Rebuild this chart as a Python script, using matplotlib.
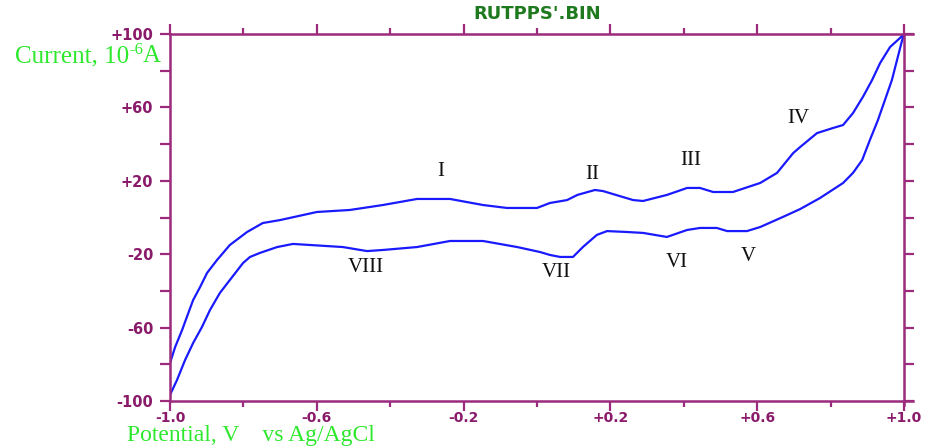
import matplotlib.pyplot as plt

AXIS = "#9c2a7d"
TICKTXT = "#8a1a6a"
GREEN = "#2ee82e"
TITLE_GREEN = "#1f7a1f"
TRACE = "#1a1aff"

# forward (anodic) sweep, potential in V vs Ag/AgCl, current in uA
fwd_v = [-1.0, -0.986, -0.967, -0.954, -0.937, -0.918, -0.899, -0.872, -0.837, -0.79,
         -0.747, -0.70, -0.60, -0.51, -0.42, -0.327, -0.237, -0.147, -0.082, 0.0,
         0.035, 0.082, 0.11, 0.158, 0.18, 0.215, 0.262, 0.289, 0.354, 0.409,
         0.444, 0.48, 0.534, 0.608, 0.654, 0.698, 0.717, 0.763, 0.807, 0.834,
         0.861, 0.888, 0.913, 0.935, 0.962, 0.989, 1.0]
fwd_i = [-79.3, -70.6, -61.3, -54.2, -45.0, -37.9, -30.2, -23.2, -15.0, -7.9,
         -3.0, -1.4, 3.0, 4.1, 6.8, 10.1, 10.1, 6.8, 5.2, 5.2,
         7.9, 9.5, 12.3, 15.0, 14.4, 12.3, 9.5, 9.0, 12.3, 16.1,
         16.1, 13.9, 13.9, 18.8, 24.3, 35.1, 38.4, 46.0, 48.8, 50.4,
         56.9, 65.7, 74.9, 84.2, 92.9, 97.8, 100.0]

# reverse (cathodic) sweep
rev_v = [-1.0, -0.981, -0.959, -0.937, -0.913, -0.891, -0.864, -0.837, -0.801, -0.782,
         -0.755, -0.708, -0.665, -0.529, -0.463, -0.42, -0.327, -0.237, -0.147, -0.054,
         0.008, 0.035, 0.063, 0.098, 0.125, 0.163, 0.191, 0.245, 0.289, 0.354,
         0.409, 0.444, 0.49, 0.518, 0.572, 0.608, 0.67, 0.717, 0.771, 0.834,
         0.861, 0.886, 0.907, 0.929, 0.948, 0.967, 0.981, 0.995, 1.0]
rev_i = [-96.7, -88.6, -77.7, -68.4, -59.7, -50.4, -41.1, -34.1, -24.8, -21.5,
         -19.3, -16.1, -14.4, -16.1, -18.3, -17.7, -16.1, -12.8, -12.8, -16.1,
         -18.8, -20.4, -21.5, -21.5, -16.1, -9.5, -7.4, -7.9, -8.4, -10.6,
         -6.8, -5.7, -5.7, -7.4, -7.4, -5.2, 0.3, 4.6, 10.6, 18.8,
         24.3, 31.3, 42.2, 53.1, 64.0, 74.9, 85.8, 96.7, 100.0]

peak_names = ["I", "II", "III", "IV", "V", "VI", "VII", "VIII"]
peak_v = [-0.262, 0.150, 0.420, 0.711, 0.575, 0.381, 0.052, -0.466]
peak_i = [24.8, 23.2, 30.8, 53.7, -21.0, -24.3, -30.2, -27.0]

x_ticks = [-1.0, -0.6, -0.2, 0.2, 0.6, 1.0]
x_labels = ["-1.0", "-0.6", "-0.2", "+0.2", "+0.6", "+1.0"]
x_minor = [-0.8, -0.4, 0.0, 0.4, 0.8]
y_ticks = [-100, -60, -20, 20, 60, 100]
y_labels = ["-100", "-60", "-20", "+20", "+60", "+100"]
y_minor = [-80, -40, 0, 40, 80]

fig = plt.figure(figsize=(9.28, 4.46), dpi=100)
ax = fig.add_axes([170 / 928, 45 / 446, 734 / 928, 367 / 446])

ax.plot(fwd_v, fwd_i, color=TRACE, lw=1.6)
ax.plot(rev_v, rev_i, color=TRACE, lw=1.6)

for name, v, i in zip(peak_names, peak_v, peak_i):
    ax.text(v, i, name, ha="center", va="center", fontsize=15,
            family="Liberation Serif", color="#111111")

ax.set_xlim(-1.0, 1.0)
ax.set_ylim(-100, 100)

ax.set_xticks(x_ticks, x_labels)
ax.set_xticks(x_minor, minor=True)
ax.set_yticks(y_ticks, y_labels)
ax.set_yticks(y_minor, minor=True)

for side in ax.spines.values():
    side.set_color(AXIS)
    side.set_linewidth(1.8)

ax.tick_params(which="both", direction="out", color=AXIS, width=1.6,
               top=True, right=True, labelcolor=TICKTXT, labelsize=10.5)
ax.tick_params(axis="x", which="major", length=7, pad=0, labelsize=10)
ax.tick_params(axis="x", which="minor", length=4)
ax.tick_params(axis="y", which="both", length=7, pad=5)
for lab in ax.get_xticklabels() + ax.get_yticklabels():
    lab.set_fontweight("bold")

# small overhang of the frame lines past the corners
ax.plot([1.0, 1.012], [0, 0], transform=ax.transAxes, clip_on=False, color=AXIS, lw=1.8)
ax.plot([1.0, 1.012], [1, 1], transform=ax.transAxes, clip_on=False, color=AXIS, lw=1.8)
ax.plot([1.0, 1.0], [0, -0.012], transform=ax.transAxes, clip_on=False, color=AXIS, lw=1.8)

fig.text(537 / 928, 1 - 14 / 446, "RUTPPS'.BIN", ha="center", va="center",
         fontsize=13, fontweight="bold", color=TITLE_GREEN)

# y-axis caption with a small raised exponent
serif = dict(family="Liberation Serif", color=GREEN)
fig.text(129 / 928, 1 - 62 / 446, "Current, 10", ha="right", va="baseline",
         fontsize=18, **serif)
fig.text(129 / 928, 1 - 50 / 446, "-6", ha="left", va="center",
         fontsize=12, **serif)
fig.text(143 / 928, 1 - 62 / 446, "A", ha="left", va="baseline",
         fontsize=18, **serif)

fig.text(127 / 928, 1 - 441 / 446, "Potential, V    vs Ag/AgCl", ha="left", va="baseline",
         fontsize=17, **serif)

fig.savefig("out.png", dpi=100)
